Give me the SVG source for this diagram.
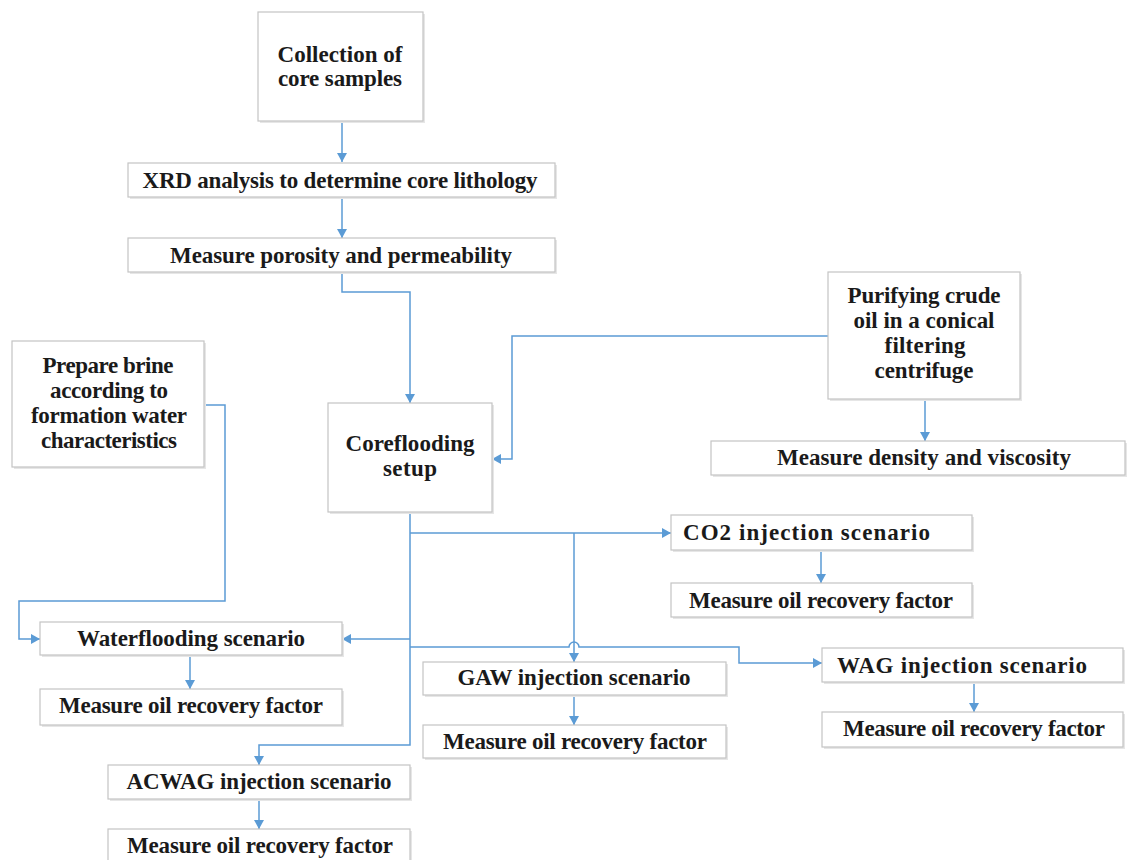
<svg xmlns="http://www.w3.org/2000/svg" width="1128" height="860" viewBox="0 0 1128 860">
<defs>
<marker id="ah" markerUnits="userSpaceOnUse" markerWidth="10" markerHeight="10" refX="9" refY="5" orient="auto">
<path d="M0,0 L9,5 L0,10 z" fill="#5b9bd5"/>
</marker>
<style>
.box{fill:#ffffff;stroke:#c4c4c4;stroke-width:1.2}
.sh{fill:#e6e6e6;stroke:none}
.t{font-family:"Liberation Serif","Times New Roman",serif;font-weight:bold;font-size:23px;fill:#1a1a1a}
.c{text-anchor:middle}
.ln{fill:none;stroke:#5b9bd5;stroke-width:1.5}
.ar{marker-end:url(#ah)}
</style>
</defs>
<rect width="1128" height="860" fill="#ffffff"/>

<g id="connectors">
<path class="ln ar" d="M342,121 V162"/>
<path class="ln ar" d="M342,197 V238"/>
<path class="ln ar" d="M342,272 V292 H410 V403"/>
<path class="ln ar" d="M828,336 H512 V459 H492"/>
<path class="ln ar" d="M925,399 V441"/>
<path class="ln ar" d="M204,405 H225 V601 H19 V639 H40"/>
<path class="ln ar" d="M410,512 V745 H259 V765"/>
<path class="ln ar" d="M410,533 H671"/>
<path class="ln ar" d="M574,533 V662"/>
<path class="ln ar" d="M410,639 H342"/>
<path class="ln ar" d="M410,647 H569 A5,5 0 0 1 579,647 H739 V663 H822"/>
<path class="ln ar" d="M190,655 V689"/>
<path class="ln ar" d="M821,550 V583"/>
<path class="ln ar" d="M574,695 V725"/>
<path class="ln ar" d="M974,682 V712"/>
<path class="ln ar" d="M259,799 V829"/>
</g>

<g id="collection">
<rect class="sh" x="260" y="14" width="165" height="109"/>
<rect class="box" x="258" y="12" width="165" height="109"/>
<text class="t c" x="340" y="62" textLength="125">Collection of</text>
<text class="t c" x="340" y="86" textLength="124">core samples</text>
</g>

<g id="xrd">
<rect class="sh" x="130" y="165" width="427" height="34"/>
<rect class="box" x="128" y="163" width="427" height="34"/>
<text class="t c" x="340" y="188" textLength="395">XRD analysis to determine core lithology</text>
</g>

<g id="porosity">
<rect class="sh" x="130" y="240" width="427" height="34"/>
<rect class="box" x="128" y="238" width="427" height="34"/>
<text class="t c" x="341" y="263" textLength="342">Measure porosity and permeability</text>
</g>

<g id="brine">
<rect class="sh" x="14" y="343" width="192" height="126"/>
<rect class="box" x="12" y="341" width="192" height="126"/>
<text class="t c" x="108" y="373" textLength="131">Prepare brine</text>
<text class="t c" x="109" y="398" textLength="118">according to</text>
<text class="t c" x="109" y="423" textLength="156">formation water</text>
<text class="t c" x="109" y="448" textLength="136">characteristics</text>
</g>

<g id="coreflooding">
<rect class="sh" x="330" y="405" width="164" height="109"/>
<rect class="box" x="328" y="403" width="164" height="109"/>
<text class="t c" x="410" y="451" textLength="129">Coreflooding</text>
<text class="t c" x="410" y="476" textLength="54">setup</text>
</g>

<g id="purifying">
<rect class="sh" x="830" y="274" width="192" height="127"/>
<rect class="box" x="828" y="272" width="192" height="127"/>
<text class="t c" x="924" y="303" textLength="153">Purifying crude</text>
<text class="t c" x="924" y="328" textLength="141">oil in a conical</text>
<text class="t c" x="925" y="353" textLength="81">filtering</text>
<text class="t c" x="924" y="378" textLength="99">centrifuge</text>
</g>

<g id="density">
<rect class="sh" x="713" y="443" width="414" height="34"/>
<rect class="box" x="711" y="441" width="414" height="34"/>
<text class="t c" x="924" y="465" textLength="294">Measure density and viscosity</text>
</g>

<g id="co2">
<rect class="sh" x="673" y="517" width="301" height="35"/>
<rect class="box" x="671" y="515" width="301" height="35"/>
<text class="t" x="683" y="540" textLength="247">CO2 injection scenario</text>
</g>

<g id="co2-measure">
<rect class="sh" x="673" y="585" width="301" height="34"/>
<rect class="box" x="671" y="583" width="301" height="34"/>
<text class="t c" x="821" y="608" textLength="264">Measure oil recovery factor</text>
</g>

<g id="waterflooding">
<rect class="sh" x="42" y="624" width="302" height="33"/>
<rect class="box" x="40" y="622" width="302" height="33"/>
<text class="t c" x="191" y="646" textLength="228">Waterflooding scenario</text>
</g>

<g id="water-measure">
<rect class="sh" x="42" y="691" width="302" height="36"/>
<rect class="box" x="40" y="689" width="302" height="36"/>
<text class="t c" x="191" y="713" textLength="264">Measure oil recovery factor</text>
</g>

<g id="gaw">
<rect class="sh" x="425" y="664" width="303" height="33"/>
<rect class="box" x="423" y="662" width="303" height="33"/>
<text class="t c" x="574" y="685" textLength="233">GAW injection scenario</text>
</g>

<g id="gaw-measure">
<rect class="sh" x="425" y="727" width="303" height="33"/>
<rect class="box" x="423" y="725" width="303" height="33"/>
<text class="t c" x="575" y="749" textLength="264">Measure oil recovery factor</text>
</g>

<g id="wag">
<rect class="sh" x="824" y="650" width="301" height="34"/>
<rect class="box" x="822" y="648" width="301" height="34"/>
<text class="t c" x="962" y="673" textLength="250">WAG injection scenario</text>
</g>

<g id="wag-measure">
<rect class="sh" x="824" y="714" width="301" height="35"/>
<rect class="box" x="822" y="712" width="301" height="35"/>
<text class="t c" x="974" y="736" textLength="262">Measure oil recovery factor</text>
</g>

<g id="acwag">
<rect class="sh" x="110" y="767" width="302" height="34"/>
<rect class="box" x="108" y="765" width="302" height="34"/>
<text class="t c" x="259" y="789" textLength="265">ACWAG injection scenario</text>
</g>

<g id="acwag-measure">
<rect class="sh" x="110" y="831" width="302" height="40"/>
<rect class="box" x="108" y="829" width="302" height="40"/>
<text class="t c" x="260" y="853" textLength="266">Measure oil recovery factor</text>
</g>
</svg>
